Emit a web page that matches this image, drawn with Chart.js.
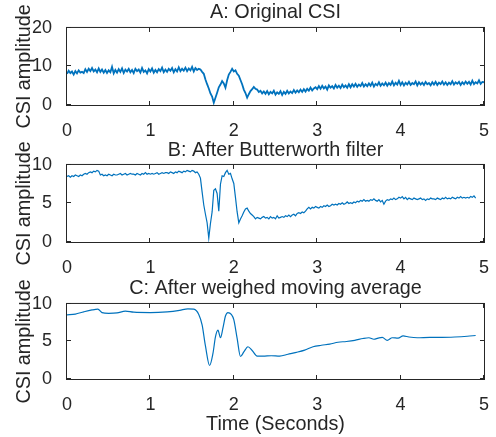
<!DOCTYPE html>
<html>
<head>
<meta charset="utf-8">
<script src="https://cdn.jsdelivr.net/npm/chart.js@4"></script>
<style>
  body { margin: 0; background: #fff; }
  #wrap { position: relative; width: 496px; height: 437px; }
  canvas { position: absolute; left: 0; }
</style>
</head>
<body>
<div id="wrap">
  <canvas id="chartA" width="496" height="140" style="top:0px"></canvas>
  <canvas id="chartB" width="496" height="140" style="top:135px"></canvas>
  <canvas id="chartC" width="496" height="167" style="top:270px"></canvas>
</div>
<script>
// sampling step (seconds) of the raw and filtered traces
const SAMPLE_STEP = 0.02;

// A: original CSI, 0 .. 5 s
const rawCsi = [
  8.1, 8.9, 8.3, 8.7, 7.9, 8.8, 8.2, 9.0, 8.4, 8.6,
  8.3, 9.3, 8.6, 9.4, 8.8, 9.6, 8.7, 9.2, 8.5, 9.5,
  8.6, 9.2, 8.4, 9.1, 8.3, 9.0, 8.5, 9.9, 8.2, 9.1,
  8.4, 9.3, 8.6, 9.5, 8.3, 9.2, 8.7, 9.4, 8.5, 9.1,
  8.3, 9.4, 8.8, 9.2, 8.4, 9.6, 8.6, 9.0, 8.2, 9.3,
  8.7, 9.5, 8.4, 9.1, 8.5, 9.3, 8.8, 9.7, 8.5, 9.2,
  8.6, 9.4, 8.9, 9.6, 8.5, 9.3, 8.7, 9.8, 8.8, 9.4,
  8.9, 9.7, 8.8, 9.5, 9.0, 9.9, 8.7, 9.6, 9.1, 9.4,
  9.2, 8.6, 8.1, 6.6, 5.4, 4.3, 3.0, 2.2, 0.6, 1.9,
  3.2, 4.6, 5.3, 6.2, 5.6, 4.5, 6.4, 7.9, 8.6, 9.4,
  8.7, 9.0, 8.1, 7.6, 6.5, 5.4, 4.0, 3.1, 1.9, 2.8,
  3.6, 4.1, 4.7, 4.2, 4.0, 3.4, 3.7, 3.0, 3.5, 2.9,
  3.6, 2.8, 3.4, 3.0, 3.7, 2.7, 3.3, 2.9, 3.6, 2.6,
  3.4, 2.9, 3.7, 3.0, 3.5, 3.1, 3.9, 3.2, 3.8, 3.3,
  4.0, 3.4, 4.1, 3.5, 4.2, 3.7, 4.5, 3.8, 4.3, 4.6,
  4.1, 4.9, 4.2, 5.0, 4.3, 4.8, 4.0, 5.1, 4.5, 4.9,
  4.3, 5.2, 4.5, 5.0, 4.4, 5.3, 4.6, 5.1, 4.5, 5.4,
  4.6, 5.4, 4.8, 5.5, 4.7, 5.3, 4.9, 5.7, 4.8, 5.4,
  4.9, 5.6, 5.0, 5.8, 4.8, 5.5, 5.1, 5.9, 5.0, 5.6,
  5.1, 5.8, 5.0, 5.7, 5.2, 6.1, 5.1, 5.8, 5.3, 6.3,
  5.2, 5.9, 5.1, 5.8, 5.3, 6.0, 5.2, 5.7, 5.4, 6.1,
  5.1, 5.9, 5.3, 5.8, 5.2, 6.0, 5.4, 5.7, 5.1, 5.9,
  5.3, 6.0, 5.2, 5.8, 5.4, 6.1, 5.3, 5.9, 5.2, 5.8,
  5.4, 6.2, 5.3, 5.9, 5.5, 6.0, 5.2, 5.9, 5.4, 6.1,
  5.5, 6.0, 5.3, 6.3, 5.4, 5.9, 5.6, 6.4, 5.5, 6.0,
  5.9
];

// B: after Butterworth filter, 0 .. 4.9 s
const butterCsi = [
  8.5, 8.6, 8.4, 8.6, 8.5, 8.7, 8.6, 8.5, 8.7, 8.6,
  8.8, 8.9, 8.8, 9.0, 9.1, 9.0, 9.2, 9.1, 9.3, 9.2,
  8.7, 8.8, 8.6, 8.7, 8.6, 8.8, 8.7, 8.6, 8.8, 8.7,
  8.7, 8.8, 8.9, 8.7, 8.8, 8.9, 8.7, 8.8, 8.9, 8.8,
  8.8, 8.7, 8.9, 8.8, 8.7, 8.9, 8.8, 9.0, 8.8, 8.9,
  8.8, 8.9, 8.8, 8.9, 9.0, 8.8, 8.9, 9.0, 8.9, 9.0,
  9.0, 8.9, 9.1, 9.0, 8.9, 9.1, 9.0, 9.2, 9.1, 9.0,
  9.2, 9.1, 9.3, 9.2, 9.1, 9.3, 9.2, 9.0, 9.1, 8.8,
  8.3, 6.5, 4.8, 3.6, 2.5, 0.5, 2.4, 3.9, 6.7, 6.9,
  6.3, 4.0, 7.5, 8.6, 8.5, 9.0, 9.3, 8.8, 8.9, 8.2,
  7.6, 5.8, 3.9, 2.5, 3.0, 3.4, 3.9, 4.3, 4.4, 4.0,
  3.7, 3.5, 3.3, 3.0, 3.2, 3.1, 3.0, 3.2, 3.3, 3.1,
  3.2, 3.0, 3.3, 3.1, 3.2, 3.0, 3.4, 3.1, 3.2, 3.3,
  3.2, 3.4, 3.3, 3.5, 3.3, 3.5, 3.6, 3.4, 3.7, 3.8,
  3.7, 3.9, 3.8, 4.0, 4.3, 4.5, 4.3, 4.5, 4.4, 4.6,
  4.5, 4.4, 4.6, 4.5, 4.7, 4.6, 4.8, 4.6, 4.7, 4.9,
  4.8, 4.9, 4.8, 5.0, 4.9, 5.1, 4.9, 5.0, 5.2, 5.0,
  5.1, 5.0, 5.2, 5.1, 5.3, 5.2, 5.4, 5.3, 5.5, 5.3,
  5.4, 5.3, 5.5, 5.4, 5.6, 5.4, 5.3, 5.5, 5.2, 5.4,
  4.9, 5.3, 5.5, 5.4, 5.6, 5.5, 5.7, 5.5, 5.6, 5.8,
  5.7, 5.9, 5.6, 5.8, 5.5, 5.7, 5.6, 5.5, 5.7, 5.6,
  5.5, 5.6, 5.7, 5.5, 5.6, 5.4, 5.6, 5.5, 5.7, 5.6,
  5.6, 5.5, 5.7, 5.6, 5.5, 5.7, 5.6, 5.8, 5.6, 5.7,
  5.6, 5.8, 5.7, 5.6, 5.8, 5.7, 5.9, 5.7, 5.8, 5.7,
  5.8, 5.7, 5.9, 5.8, 6.0, 5.7
];

// C: after weighed moving average
const wmaTime = [
  0, 0.1, 0.2, 0.3, 0.37, 0.42, 0.5, 0.6, 0.7, 0.8,
  1.0, 1.2, 1.35, 1.45, 1.52, 1.58, 1.62, 1.66, 1.71, 1.75,
  1.78, 1.81, 1.84, 1.87, 1.9, 1.93, 1.97, 2.0, 2.04, 2.08,
  2.12, 2.17, 2.22, 2.28, 2.35, 2.45, 2.55, 2.65, 2.75, 2.85,
  2.95, 3.05, 3.15, 3.25, 3.35, 3.45, 3.55, 3.62, 3.68, 3.73,
  3.78, 3.84, 3.9, 3.97, 4.03, 4.1, 4.2, 4.35, 4.5, 4.65,
  4.8, 4.9
];
const wmaCsi = [
  8.55, 8.65, 8.95, 9.2, 9.3, 8.85, 8.75, 8.8, 9.05, 8.9,
  8.85, 8.95, 9.15, 9.35, 9.3, 8.6, 7.2, 4.4, 1.8, 3.4,
  5.6, 6.5, 5.5, 6.8, 8.4, 8.85, 8.6, 7.9, 5.4, 3.0,
  3.6, 4.3, 3.8, 3.05, 3.05, 3.1, 3.05, 3.3, 3.55, 3.85,
  4.3, 4.5, 4.65, 4.9, 5.0, 5.15, 5.4, 5.5, 5.3, 5.45,
  5.55, 5.15, 5.5, 5.45, 5.75, 5.6, 5.5, 5.55, 5.55, 5.6,
  5.7, 5.8
];

const blue = '#0072BD';
const ink = '#262626';
const family = '"Liberation Sans", Arial, Helvetica, sans-serif';

// MATLAB style box with inward tick marks
const boxTicks = {
  id: 'boxTicks',
  afterDatasetsDraw(chart) {
    const { ctx, chartArea: a, scales: { x, y } } = chart;
    ctx.save();
    ctx.strokeStyle = ink;
    ctx.lineWidth = 1;
    ctx.strokeRect(a.left - 0.5, a.top - 0.5, a.right - a.left + 1, a.bottom - a.top + 1);
    ctx.beginPath();
    x.ticks.forEach(t => {
      const px = Math.round(x.getPixelForValue(t.value)) - 0.5;
      ctx.moveTo(px, a.bottom); ctx.lineTo(px, a.bottom - 4);
      ctx.moveTo(px, a.top); ctx.lineTo(px, a.top + 4);
    });
    y.ticks.forEach(t => {
      const py = Math.round(y.getPixelForValue(t.value)) - 0.5;
      ctx.moveTo(a.left, py); ctx.lineTo(a.left + 4, py);
      ctx.moveTo(a.right, py); ctx.lineTo(a.right - 4, py);
    });
    ctx.stroke();
    ctx.restore();
  }
};

function panel(id, title, points, yMax, yStep, g) {
  return new Chart(document.getElementById(id), {
    type: 'line',
    data: {
      datasets: [{
        data: points,
        borderColor: blue,
        borderWidth: g.lw,
        pointRadius: 0,
        tension: 0,
        cubicInterpolationMode: g.smooth ? 'monotone' : 'default'
      }]
    },
    options: {
      responsive: false,
      animation: false,
      events: [],
      layout: { padding: { left: 0, right: 9, top: 0, bottom: 0 } },
      plugins: {
        legend: { display: false },
        tooltip: { enabled: false },
        title: {
          display: true,
          text: title,
          color: ink,
          fullSize: false,
          font: { family, size: 19.8, weight: 'normal' },
          padding: { top: g.tp, bottom: g.bp }
        }
      },
      scales: {
        x: {
          type: 'linear',
          min: 0, max: 5,
          grid: { display: false },
          border: { display: false },
          ticks: { stepSize: 1, color: ink, padding: 7, maxRotation: 0, font: { family, size: 18 } },
          title: {
            display: !!g.xTitle,
            text: g.xTitle || '',
            color: ink,
            font: { family, size: 19.8, weight: 'normal' },
            padding: { top: 0, bottom: 1 }
          },
          afterFit: s => { s.height = g.xh; }
        },
        y: {
          min: 0, max: yMax,
          grid: { display: false },
          border: { display: false },
          ticks: { stepSize: yStep, color: ink, padding: 7, font: { family, size: 18 } },
          title: {
            display: true,
            text: 'CSI amplitude',
            color: ink,
            font: { family, size: 19.8, weight: 'normal' },
            padding: { top: 12.6, bottom: 0 }
          },
          afterFit: s => { s.width = 67; }
        }
      }
    },
    plugins: [boxTicks]
  });
}

const toPoints = vals => vals.map((v, i) => ({ x: +(i * SAMPLE_STEP).toFixed(2), y: v }));

panel('chartA', 'A: Original CSI', toPoints(rawCsi), 20, 10, { tp: 1.1, bp: 3.1, xh: 35, lw: 1.8 });
panel('chartB', 'B: After Butterworth filter', toPoints(butterCsi), 10, 5, { tp: 4.1, bp: 2.1, xh: 33, lw: 1.2 });
panel('chartC', 'C: After weighed moving average',
  wmaTime.map((t, i) => ({ x: t, y: wmaCsi[i] })), 10, 5,
  { tp: 6.6, bp: 3.6, xh: 58, xTitle: 'Time (Seconds)', smooth: true, lw: 1.2 });
</script>
</body>
</html>
